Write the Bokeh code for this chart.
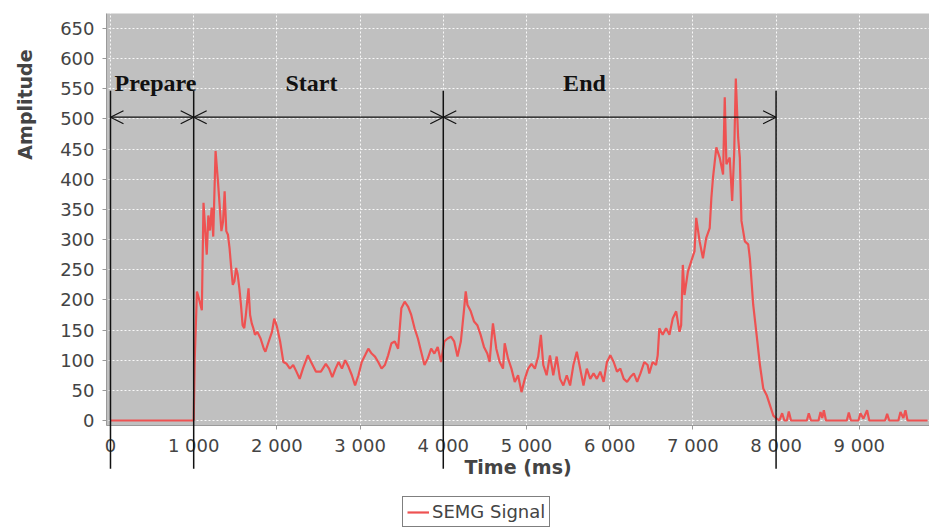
from bokeh.plotting import figure
from bokeh.models import (FixedTicker, Arrow, OpenHead, Label, Legend, LegendItem, Range1d,
                          BoxAnnotation)
from bokeh.embed import file_html
from bokeh.resources import INLINE

# ---------------- data ----------------
time_ms = [0, 1000, 1012, 1039, 1067, 1098, 1118, 1157, 1176, 1196, 1216, 1235, 1263, 1294,
           1314, 1333, 1353, 1372, 1392, 1412, 1431, 1451, 1470, 1490, 1510, 1529, 1549, 1568,
           1588, 1608, 1627, 1659, 1678, 1698, 1717, 1737, 1764, 1804, 1843, 1862, 1902, 1941,
           1968, 2000, 2039, 2078, 2117, 2156, 2196, 2235, 2274, 2313, 2372, 2411, 2470, 2529,
           2588, 2627, 2666, 2705, 2742, 2782, 2821, 2861, 2901, 2940, 2980, 3020, 3060, 3099,
           3139, 3179, 3218, 3258, 3298, 3337, 3377, 3417, 3457, 3496, 3536, 3576, 3615, 3655,
           3695, 3734, 3774, 3814, 3854, 3893, 3933, 3973, 4012, 4052, 4092, 4131, 4171, 4211,
           4251, 4270, 4290, 4330, 4370, 4409, 4449, 4489, 4529, 4557, 4577, 4597, 4637, 4678,
           4718, 4738, 4778, 4819, 4859, 4899, 4940, 4980, 5020, 5060, 5101, 5141, 5173, 5202,
           5242, 5282, 5322, 5363, 5403, 5443, 5484, 5524, 5564, 5605, 5645, 5685, 5725, 5766,
           5806, 5846, 5887, 5927, 5967, 6008, 6048, 6088, 6128, 6169, 6209, 6249, 6290, 6330,
           6370, 6416, 6456, 6476, 6516, 6557, 6577, 6597, 6637, 6678, 6718, 6758, 6799, 6839,
           6859, 6879, 6899, 6940, 6980, 7020, 7040, 7081, 7121, 7161, 7202, 7222, 7242, 7282,
           7322, 7363, 7383, 7403, 7443, 7472, 7496, 7516, 7544, 7564, 7584, 7625, 7665, 7685,
           7725, 7766, 7806, 7846, 7887, 7927, 7967, 8007, 8040, 8073, 8100, 8130, 8153, 8180,
           8370, 8393, 8420, 8510, 8534, 8555, 8574, 8600, 8850, 8874, 8900, 8990, 9014, 9050,
           9094, 9120, 9310, 9335, 9360, 9470, 9495, 9530, 9555, 9580, 9820]
amplitude = [0, 0, 100, 214, 200, 183, 361, 275, 340, 315, 353, 305, 447, 392,
             353, 314, 330, 380, 314, 308, 286, 253, 225, 231, 253, 242, 219, 192,
             158, 153, 175, 219, 175, 161, 153, 142, 147, 136, 119, 114, 131, 147,
             169, 156, 131, 97, 94, 86, 92, 81, 69, 86, 108, 97, 81, 81,
             94, 86, 72, 86, 97, 86, 100, 89, 75, 58, 75, 97, 108, 119,
             111, 106, 97, 86, 92, 108, 128, 131, 119, 186, 197, 189, 175, 153,
             136, 114, 92, 103, 119, 111, 122, 97, 131, 136, 139, 131, 106, 131,
             186, 214, 192, 181, 164, 158, 142, 122, 111, 97, 131, 161, 119, 97,
             86, 128, 103, 86, 64, 75, 47, 69, 86, 94, 86, 106, 142, 92,
             75, 108, 75, 106, 69, 58, 75, 58, 92, 114, 86, 58, 86, 69,
             78, 69, 81, 64, 97, 108, 97, 81, 86, 69, 64, 72, 78, 64,
             78, 97, 92, 78, 97, 92, 108, 153, 142, 153, 142, 169, 181, 147,
             158, 258, 208, 247, 264, 281, 336, 297, 269, 303, 319, 369, 403, 453,
             436, 408, 536, 425, 436, 364, 442, 567, 469, 436, 331, 297, 292, 269,
             192, 142, 92, 53, 42, 25, 8, 3, 0, 12, 0, 0, 15, 0,
             0, 12, 0, 0, 14, 4, 17, 0, 0, 13, 0, 0, 12, 3,
             17, 0, 0, 11, 0, 0, 14, 4, 17, 0, 0]

x_ticks = [0, 1000, 2000, 3000, 4000, 5000, 6000, 7000, 8000, 9000]
x_tick_labels = ["0", "1 000", "2 000", "3 000", "4 000", "5 000", "6 000", "7 000", "8 000", "9 000"]
y_ticks = [0, 50, 100, 150, 200, 250, 300, 350, 400, 450, 500, 550, 600, 650]

phase_bounds = [0, 1000, 4000, 8000]
phase_names = ["Prepare", "Start", "End"]
series_name = "SEMG Signal"
x_title = "Time (ms)"
y_title = "Amplitude"

# ---------------- layout constants ----------------
X_LO, X_HI = -1322, 9844        # whole canvas, horizontally
Y_LO, Y_HI = -180.8, 696.5      # whole canvas, vertically
PLOT_LEFT, PLOT_BOTTOM, PLOT_TOP = -48, -8.3, 675   # grey plot area
TICK_FONT = "DejaVu Sans"
GREY_TEXT = "#444444"
INK = "#111111"

p = figure(width=929, height=529, output_backend="svg", toolbar_location=None,
           x_range=Range1d(X_LO, X_HI), y_range=Range1d(Y_LO, Y_HI))
p.min_border = 0
p.min_border_left = 0
p.min_border_right = 0
p.min_border_top = 0
p.min_border_bottom = 0
p.title.visible = False
p.background_fill_color = "white"
p.border_fill_color = "white"
p.outline_line_color = None

# grey plot area, painted beneath the grid
p.add_layout(BoxAnnotation(left=PLOT_LEFT, bottom=PLOT_BOTTOM, top=PLOT_TOP,
                           fill_color="#c0c0c0", fill_alpha=1, line_color=None,
                           level="image"))

for ax in (p.xaxis[0], p.yaxis[0]):
    ax.axis_line_color = "#9a9a9a"
    ax.major_tick_line_color = "#9a9a9a"
    ax.major_tick_out = 4
    ax.major_tick_in = 0
    ax.minor_tick_line_color = None
    ax.major_label_text_font = TICK_FONT
    ax.major_label_text_font_size = "18px"
    ax.major_label_text_color = GREY_TEXT

p.xaxis.fixed_location = PLOT_BOTTOM
p.xaxis.bounds = (PLOT_LEFT, X_HI)
p.xaxis.ticker = FixedTicker(ticks=x_ticks)
p.xaxis.major_label_overrides = {t: s for t, s in zip(x_ticks, x_tick_labels)}
p.xaxis.major_label_standoff = 6
p.xaxis.axis_label = x_title
p.xaxis.axis_label_text_font = TICK_FONT
p.xaxis.axis_label_text_font_style = "bold"
p.xaxis.axis_label_text_font_size = "19px"
p.xaxis.axis_label_text_color = GREY_TEXT
p.xaxis.axis_label_standoff = -4

p.yaxis.fixed_location = PLOT_LEFT
p.yaxis.bounds = (PLOT_BOTTOM, PLOT_TOP)
p.yaxis.ticker = FixedTicker(ticks=y_ticks)
p.yaxis.major_label_standoff = 8

for g in (p.xgrid[0], p.ygrid[0]):
    g.grid_line_color = "white"
    g.grid_line_dash = "2 2"
    g.grid_line_width = 1
    g.grid_line_alpha = 0.9

# y axis title (placed off-centre like the reference)
p.add_layout(Label(x=-1022, y=524, text=y_title, angle=1.5708,
                   text_align="center", text_baseline="middle",
                   text_font=TICK_FONT, text_font_style="bold",
                   text_font_size="19px", text_color=GREY_TEXT))

# signal
sig = p.line(time_ms, amplitude, line_color="#ee5252", line_width=2.2)

# vertical phase boundaries (they run down through the tick labels)
for b in phase_bounds:
    p.add_layout(Arrow(start=None, end=None, x_start=b, x_end=b, y_start=547, y_end=-80,
                       line_color=INK, line_width=1.5))

# double-headed phase arrows
ARROW_Y = 503
for a, b in zip(phase_bounds[:-1], phase_bounds[1:]):
    p.add_layout(Arrow(start=OpenHead(size=13, line_color=INK, line_width=1.2),
                       end=OpenHead(size=13, line_color=INK, line_width=1.2),
                       x_start=a, x_end=b, y_start=ARROW_Y, y_end=ARROW_Y,
                       line_color=INK, line_width=1.2))

# phase names
label_x = [541, 2416, 5697]
for name, lx in zip(phase_names, label_x):
    p.add_layout(Label(x=lx, y=559, text=name, text_align="center",
                       text_baseline="alphabetic", text_font="Liberation Serif",
                       text_font_style="bold", text_font_size="24px", text_color=INK))

legend = Legend(items=[LegendItem(label=series_name, renderers=[sig])],
                location=(402, 2))
legend.border_line_color = "black"
legend.border_line_width = 1
legend.background_fill_color = "white"
legend.background_fill_alpha = 1
legend.label_text_font = TICK_FONT
legend.label_text_font_size = "18px"
legend.label_text_color = GREY_TEXT
legend.glyph_width = 22
legend.glyph_height = 18
legend.padding = 4
legend.label_standoff = 3
legend.margin = 0
p.add_layout(legend, "center")

open("out.html", "w").write(file_html(p, INLINE))
